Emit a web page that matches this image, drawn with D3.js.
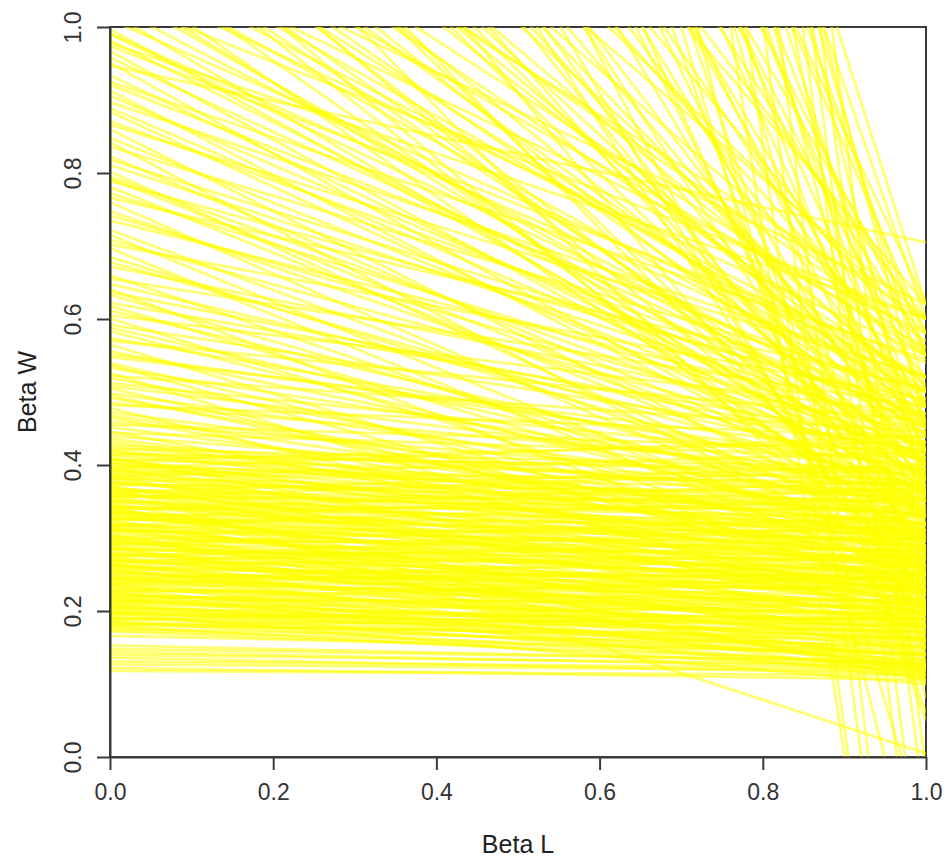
<!DOCTYPE html>
<html>
<head>
<meta charset="utf-8">
<script src="https://cdn.jsdelivr.net/npm/d3@7"></script>
<style>
  html, body { margin: 0; padding: 0; background: #fff; }
  svg { display: block; font-family: "Liberation Sans", Arial, sans-serif; }
</style>
</head>
<body>
<script>
// each line: [Beta W at Beta L = 0, Beta W at Beta L = 1]
const lowLines = [
  [0.118,0.112],[0.122,0.106],[0.127,0.118],[0.131,0.121],[0.136,0.114],
  [0.140,0.126],[0.144,0.122],[0.148,0.131],[0.153,0.128],[0.166,0.142]
];

const bandLines = [
  [0.172,0.128],[0.176,0.152],[0.179,0.118],[0.183,0.160],[0.186,0.141],[0.190,0.172],[0.192,0.133],[0.195,0.180],[0.198,0.155],[0.201,0.122],
  [0.203,0.188],[0.206,0.163],[0.209,0.145],[0.211,0.197],[0.214,0.171],[0.217,0.138],[0.220,0.205],[0.222,0.182],[0.225,0.158],[0.228,0.214],
  [0.230,0.126],[0.233,0.193],[0.236,0.221],[0.238,0.167],[0.241,0.230],[0.244,0.201],[0.246,0.148],[0.249,0.236],[0.252,0.212],[0.254,0.178],
  [0.257,0.245],[0.260,0.190],[0.262,0.225],[0.265,0.134],[0.268,0.252],[0.270,0.208],[0.273,0.170],[0.276,0.260],[0.278,0.233],[0.281,0.196],
  [0.284,0.268],[0.286,0.150],[0.289,0.242],[0.292,0.275],[0.294,0.218],[0.297,0.185],[0.300,0.283],[0.302,0.250],[0.305,0.115],[0.308,0.229],
  [0.310,0.290],[0.313,0.262],[0.316,0.199],[0.318,0.298],[0.321,0.240],[0.324,0.162],[0.326,0.305],[0.329,0.271],[0.332,0.215],[0.334,0.312],
  [0.337,0.252],[0.340,0.188],[0.342,0.320],[0.345,0.280],[0.348,0.141],[0.350,0.327],[0.353,0.263],[0.356,0.230],[0.358,0.335],[0.361,0.290],
  [0.364,0.204],[0.366,0.342],[0.369,0.274],[0.372,0.005],[0.374,0.350],[0.377,0.300],[0.380,0.245],[0.382,0.357],[0.385,0.176],[0.388,0.310],
  [0.390,0.365],[0.393,0.285],[0.396,0.222],[0.398,0.372],[0.401,0.320],[0.404,0.258],[0.407,0.380],[0.410,0.198],[0.413,0.330],[0.416,0.388],
  [0.419,0.295],[0.422,0.395],[0.188,0.210],[0.215,0.248],[0.243,0.275],[0.267,0.300],[0.291,0.330],[0.317,0.355],[0.339,0.378],[0.362,0.400],
  [0.384,0.418],[0.406,0.432],[0.197,0.100],[0.226,0.108],[0.259,0.112],[0.287,0.120],[0.315,0.125],[0.343,0.105],[0.181,0.190],[0.238,0.262],
  [0.274,0.318],[0.327,0.368],[0.355,0.395],[0.395,0.440],[0.207,0.140],[0.299,0.160],[0.371,0.214],[0.263,0.182],[0.336,0.236],[0.409,0.275]
];

const bandLines2 = [
  [0.174,0.140],[0.180,0.165],[0.185,0.125],[0.191,0.150],[0.196,0.190],[0.200,0.170],[0.205,0.132],[0.210,0.178],[0.213,0.215],[0.218,0.160],
  [0.221,0.195],[0.227,0.235],[0.232,0.176],[0.235,0.140],[0.240,0.210],[0.245,0.250],[0.248,0.188],[0.253,0.226],[0.256,0.160],[0.261,0.240],
  [0.264,0.275],[0.269,0.200],[0.272,0.228],[0.277,0.285],[0.280,0.172],[0.285,0.255],[0.288,0.215],[0.293,0.300],[0.296,0.238],[0.301,0.195],
  [0.304,0.270],[0.309,0.310],[0.312,0.230],[0.317,0.280],[0.320,0.180],[0.325,0.320],[0.328,0.248],[0.333,0.295],[0.336,0.205],[0.341,0.340],
  [0.344,0.262],[0.349,0.310],[0.352,0.225],[0.357,0.350],[0.360,0.275],[0.365,0.322],[0.368,0.240],[0.373,0.362],[0.376,0.290],[0.381,0.335],
  [0.387,0.255],[0.392,0.375],[0.397,0.305],[0.403,0.345],[0.408,0.270],[0.414,0.392],[0.420,0.318],[0.428,0.360],[0.436,0.300],[0.444,0.410]
];

const upperLines = [
  [0.425,0.330],[0.432,0.285],[0.440,0.352],[0.446,0.240],[0.452,0.310],[0.459,0.368],[0.465,0.265],[0.472,0.330],[0.478,0.205],[0.485,0.385],
  [0.492,0.295],[0.498,0.345],[0.505,0.250],[0.512,0.400],[0.519,0.318],[0.526,0.180],[0.533,0.362],[0.540,0.275],[0.548,0.410],[0.556,0.330],
  [0.565,0.228],[0.574,0.380],[0.583,0.300],[0.592,0.420],[0.601,0.255],[0.612,0.350],[0.622,0.430],[0.633,0.315],[0.641,0.210],[0.648,0.390],
  [0.660,0.280],[0.672,0.445],[0.685,0.340],[0.697,0.240],[0.708,0.405],[0.722,0.310],[0.735,0.455],[0.748,0.365],[0.760,0.270],[0.772,0.425],
  [0.781,0.330],[0.789,0.480],[0.795,0.390],[0.802,0.290],[0.811,0.445],[0.823,0.350],[0.836,0.500],[0.848,0.405],[0.860,0.300],[0.871,0.465],
  [0.884,0.370],[0.897,0.520],[0.906,0.430],[0.913,0.335],[0.921,0.485],[0.934,0.400],[0.947,0.705],[0.958,0.450],[0.967,0.360],[0.974,0.540],
  [0.982,0.420],[0.991,0.500],[0.997,0.380],
  [0.455,0.420],[0.468,0.300],[0.482,0.438],[0.495,0.262],[0.508,0.372],[0.522,0.445],[0.537,0.228],[0.552,0.395],[0.570,0.460],[0.588,0.338],
  [0.605,0.470],[0.618,0.285],[0.637,0.415],[0.655,0.480],[0.678,0.365],[0.702,0.490],[0.715,0.260],[0.742,0.415],[0.766,0.505],[0.792,0.350],
  [0.818,0.470],[0.842,0.255],[0.866,0.520],[0.889,0.410],[0.925,0.545],[0.951,0.330],[0.978,0.600],[0.990,0.460]
];

const highLines = [
  [1.03,0.45],[1.06,0.38],[1.10,0.52],[1.14,0.40],[1.18,0.48],[1.22,0.35],[1.27,0.55],[1.32,0.42],[1.38,0.30],[1.44,0.50],
  [1.50,0.38],[1.56,0.60],[1.62,0.45],[1.70,0.32],[1.78,0.52],[1.85,0.40],[1.92,0.62],[2.00,0.28],[2.10,0.48],[2.20,0.36],
  [2.30,0.56],[2.42,0.42],[2.55,0.25],[2.70,0.50],[2.85,0.38],[3.00,0.62],[3.20,0.45],[3.40,0.30],[3.65,0.55],[3.90,0.40],
  [4.10,0.62],[4.50,0.20],[5.00,0.35],[2.25,0.10],[2.60,0.15],[3.10,0.05],[1.90,0.18],[1.60,0.22],[1.35,0.20],[1.20,0.25],
  [1.08,0.30],[1.12,0.58],[1.16,0.28],[1.25,0.45],[1.30,0.60],[1.36,0.48],[1.42,0.26],[1.47,0.44],[1.53,0.55],[1.58,0.33],
  [1.66,0.58],[1.74,0.42],[1.82,0.28],[1.88,0.55],[1.96,0.45],[2.05,0.60],[2.15,0.30],[2.35,0.46],[2.48,0.58],[2.65,0.35],
  [2.78,0.55],[2.95,0.42],[3.15,0.58],[3.30,0.48],[3.55,0.38],[3.80,0.60],[4.30,0.50],[4.80,0.45],[2.05,0.15],[2.45,0.20],
  [1.01,0.52],[1.02,0.36],[1.04,0.60],[1.05,0.42],[1.07,0.55],[1.09,0.47],[1.11,0.33],[1.13,0.50],[1.15,0.62],[1.17,0.38],
  [1.19,0.56],[1.21,0.44],[1.24,0.30],[1.26,0.51],[1.29,0.40],[1.33,0.57],[1.40,0.46],[1.46,0.36],[1.52,0.49],[1.64,0.40]
];

const steepLines = [
  [6.43,-0.71],[7.24,-0.76],[7.67,-0.66],[8.45,-0.64],[8.39,-0.31],[8.48,-0.22],[8.25,-0.08],[8.83,-0.02],
  [4.13,-0.22],[3.59,-0.11],[3.30,0.06],[4.00,0.08],[5.50,0.12]
];

const xTicks = [0, 0.2, 0.4, 0.6, 0.8, 1.0];
const yTicks = [0, 0.2, 0.4, 0.6, 0.8, 1.0];

const W = 949, H = 861;
const plot = { left: 110, right: 926, top: 27, bottom: 757 };

const x = d3.scaleLinear().domain([0, 1]).range([plot.left, plot.right]);
const y = d3.scaleLinear().domain([0, 1]).range([plot.bottom, plot.top]);

const svg = d3.select('body').append('svg')
  .attr('width', W)
  .attr('height', H);

svg.append('rect').attr('width', W).attr('height', H).attr('fill', '#fff');

svg.append('clipPath').attr('id', 'clip')
  .append('rect')
  .attr('x', plot.left).attr('y', plot.top)
  .attr('width', plot.right - plot.left)
  .attr('height', plot.bottom - plot.top);

// plot box
svg.append('rect')
  .attr('x', plot.left).attr('y', plot.top)
  .attr('width', plot.right - plot.left)
  .attr('height', plot.bottom - plot.top)
  .attr('fill', 'none')
  .attr('stroke', '#3a3a3a')
  .attr('stroke-width', 2);

const allLines = [].concat(lowLines, bandLines, bandLines2, upperLines, highLines, steepLines);

svg.append('g')
  .attr('clip-path', 'url(#clip)')
  .selectAll('line')
  .data(allLines)
  .join('line')
  .attr('x1', x(0))
  .attr('x2', x(1))
  .attr('y1', d => y(d[0]))
  .attr('y2', d => y(d[1]))
  .attr('stroke', '#ffff00')
  .attr('stroke-opacity', 0.55)
  .attr('stroke-width', 2.8);

// axes
const fmt = d3.format('.1f');

const xAxis = svg.append('g')
  .attr('transform', `translate(0,${plot.bottom})`)
  .call(d3.axisBottom(x).tickValues(xTicks).tickFormat(fmt).tickSize(13).tickSizeOuter(0).tickPadding(14));

const yAxis = svg.append('g')
  .attr('transform', `translate(${plot.left},0)`)
  .call(d3.axisLeft(y).tickValues(yTicks).tickFormat(fmt).tickSize(13).tickSizeOuter(0));

[xAxis, yAxis].forEach(g => {
  g.select('.domain').attr('stroke', '#3a3a3a').attr('stroke-width', 2);
  g.selectAll('.tick line').attr('stroke', '#3a3a3a').attr('stroke-width', 2);
  g.selectAll('.tick text')
    .attr('fill', '#333')
    .attr('font-size', 23)
    .attr('font-family', '"Liberation Sans", Arial, sans-serif');
});

xAxis.selectAll('.tick text').attr('dy', '0.71em');

yAxis.selectAll('.tick text')
  .attr('transform', 'rotate(-90)')
  .attr('x', 0)
  .attr('y', -37)
  .attr('dy', '0.35em')
  .attr('text-anchor', 'middle');

svg.append('text')
  .attr('x', (plot.left + plot.right) / 2)
  .attr('y', 853)
  .attr('text-anchor', 'middle')
  .attr('font-size', 25)
  .attr('fill', '#222')
  .text('Beta L');

svg.append('text')
  .attr('transform', `translate(36,${(plot.top + plot.bottom) / 2}) rotate(-90)`)
  .attr('text-anchor', 'middle')
  .attr('font-size', 25)
  .attr('fill', '#222')
  .text('Beta W');
</script>
</body>
</html>
